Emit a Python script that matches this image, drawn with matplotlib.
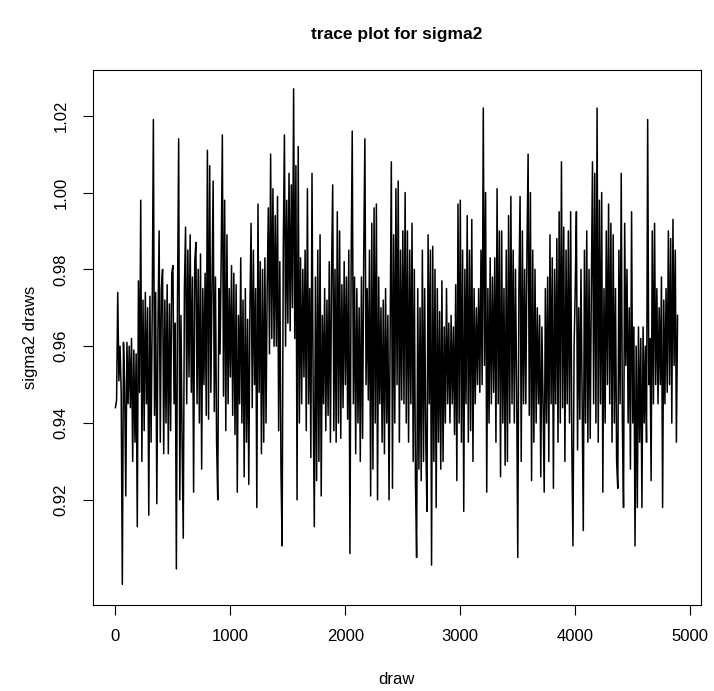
import matplotlib
matplotlib.use("Agg")
import matplotlib.pyplot as plt
import numpy as np
from matplotlib.ticker import FormatStrFormatter

plt.rcParams["font.family"] = ["Liberation Sans", "DejaVu Sans"]

# sigma2 draws, every 10th draw
sigma2 = [
    0.944, 0.946, 0.974, 0.951, 0.960, 0.948, 0.898, 0.961, 0.950, 0.921,
    0.961, 0.945, 0.960, 0.944, 0.962, 0.930, 0.959, 0.935, 0.958, 0.913,
    0.977, 0.948, 0.998, 0.930, 0.972, 0.938, 0.974, 0.945, 0.970, 0.916,
    0.973, 0.935, 0.969, 1.019, 0.942, 0.974, 0.919, 0.965, 0.990, 0.935,
    0.975, 0.980, 0.932, 0.972, 0.940, 0.976, 0.932, 0.971, 0.938, 0.979,
    0.981, 0.945, 0.966, 0.902, 0.972, 1.014, 0.920, 0.968, 0.935, 0.910,
    0.975, 0.991, 0.945, 0.985, 0.952, 0.989, 0.948, 0.978, 0.922, 0.982,
    0.987, 0.945, 0.980, 0.940, 0.984, 0.928, 0.975, 0.950, 0.979, 0.942,
    1.011, 0.941, 1.007, 0.948, 0.975, 1.003, 0.943, 0.978, 0.935, 0.920,
    0.975, 0.958, 0.983, 1.015, 0.947, 0.998, 0.938, 0.989, 0.945, 0.975,
    0.952, 0.981, 0.942, 0.979, 0.937, 0.976, 0.922, 0.968, 0.945, 0.983,
    0.940, 0.972, 0.926, 0.975, 0.935, 0.967, 0.924, 0.970, 0.992, 0.944,
    0.985, 0.950, 0.975, 0.918, 0.997, 0.948, 0.982, 0.932, 0.980, 0.935,
    0.983, 0.940, 0.975, 0.996, 0.958, 1.010, 0.962, 1.001, 0.960, 0.994,
    0.960, 0.999, 0.938, 0.982, 0.928, 0.908, 0.985, 1.015, 0.960, 0.998,
    0.966, 1.005, 0.964, 1.002, 0.970, 1.027, 0.962, 1.007, 0.920, 1.012,
    0.940, 0.983, 0.945, 0.980, 0.952, 0.985, 0.938, 1.001, 0.945, 0.975,
    0.931, 1.005, 0.948, 0.913, 0.978, 0.925, 0.985, 0.930, 0.989, 0.921,
    0.968, 0.945, 0.975, 0.938, 0.972, 0.942, 0.982, 0.935, 0.979, 1.002,
    0.938, 0.980, 0.935, 0.995, 0.940, 0.990, 0.936, 0.976, 0.944, 0.982,
    0.950, 0.978, 0.941, 0.985, 0.906, 0.980, 1.016, 0.945, 0.978, 0.932,
    0.975, 0.940, 0.970, 0.930, 0.978, 0.936, 0.984, 1.014, 0.950, 0.975,
    0.946, 0.985, 0.921, 0.992, 0.928, 0.996, 0.940, 0.997, 0.920, 0.978,
    0.945, 0.970, 0.935, 0.972, 0.932, 0.975, 0.940, 0.968, 0.920, 0.965,
    1.008, 0.923, 0.989, 0.940, 1.001, 0.950, 1.003, 0.935, 0.985, 0.946,
    0.990, 0.945, 1.000, 0.940, 0.990, 0.935, 0.985, 0.945, 0.992, 0.930,
    0.980, 0.925, 0.905, 0.975, 0.928, 0.970, 0.925, 0.985, 0.930, 0.975,
    0.935, 0.917, 0.989, 0.945, 0.985, 0.903, 0.986, 0.930, 0.980, 0.918,
    0.975, 0.935, 0.969, 0.928, 0.977, 0.930, 0.965, 0.940, 0.975, 0.945,
    0.966, 0.940, 0.968, 0.945, 0.965, 0.937, 0.976, 0.925, 0.997, 0.940,
    0.998, 0.935, 0.985, 0.917, 0.980, 0.945, 0.994, 0.935, 0.985, 0.938,
    0.993, 0.930, 0.975, 0.945, 0.970, 0.950, 0.975, 0.948, 0.985, 0.950,
    1.022, 0.955, 1.000, 0.922, 0.975, 0.940, 0.983, 0.945, 0.978, 0.948,
    0.983, 0.935, 1.001, 0.945, 0.990, 0.926, 0.990, 0.940, 0.975, 0.929,
    0.985, 0.930, 0.994, 0.940, 0.999, 0.945, 0.985, 0.940, 0.980, 0.950,
    0.905, 0.975, 0.999, 0.930, 0.990, 0.945, 0.980, 0.945, 0.985, 1.010,
    0.942, 1.000, 0.925, 0.985, 0.935, 0.980, 0.940, 0.970, 0.945, 0.968,
    0.926, 0.965, 0.945, 0.922, 0.975, 0.940, 0.978, 0.930, 0.989, 0.945,
    0.983, 0.923, 0.980, 0.945, 0.988, 0.935, 0.995, 0.940, 1.008, 0.944,
    0.991, 0.930, 0.985, 0.945, 0.990, 0.940, 0.995, 0.935, 0.908, 0.960,
    0.975, 0.995, 0.933, 0.970, 0.941, 0.980, 0.945, 0.912, 0.985, 0.940,
    0.990, 0.935, 0.980, 0.936, 0.975, 1.008, 0.945, 1.005, 0.940, 1.022,
    0.935, 0.998, 0.945, 1.000, 0.922, 0.975, 0.940, 0.990, 0.950, 0.997,
    0.945, 0.992, 0.935, 0.989, 0.940, 0.975, 0.930, 0.923, 0.985, 0.945,
    1.005, 0.940, 0.918, 0.992, 0.955, 0.980, 0.940, 0.970, 0.928, 0.995,
    0.940, 0.965, 0.908, 0.960, 0.918, 0.965, 0.935, 0.962, 0.918, 0.965,
    0.940, 0.960, 0.935, 1.019, 0.950, 0.962, 0.925, 0.990, 0.945, 0.992,
    0.950, 0.975, 0.945, 0.970, 0.950, 0.978, 0.918, 0.972, 0.945, 0.975,
    0.948, 0.990, 0.950, 0.988, 0.940, 0.993, 0.955, 0.985, 0.935, 0.968,
]
thin = 10
draw = np.arange(len(sigma2)) * thin + 1

x_ticks = [0, 1000, 2000, 3000, 4000, 5000]
y_ticks = [0.92, 0.94, 0.96, 0.98, 1.00, 1.02]

fig = plt.figure(figsize=(7.14, 6.91), dpi=100)
ax = fig.add_axes([0.1298, 0.1249, 0.852, 0.7738])

ax.plot(draw, sigma2, color="black", linewidth=1.1)

ax.set_xlim(-197, 5095)
ax.set_ylim(0.8927, 1.0319)
ax.set_xticks(x_ticks)
ax.set_yticks(y_ticks)
ax.yaxis.set_major_formatter(FormatStrFormatter("%.2f"))

ax.tick_params(direction="out", length=7.5, width=0.8, labelsize=12, pad=10)
for lab in ax.get_yticklabels():
    lab.set_rotation(90)
    lab.set_va("center")

for spine in ax.spines.values():
    spine.set_linewidth(0.8)

ax.set_xlabel("draw", fontsize=12, labelpad=20)
ax.set_ylabel("sigma2 draws", fontsize=12, labelpad=11)
ax.set_title("trace plot for sigma2", fontsize=12.5, fontweight="bold", pad=22)

fig.savefig("out.png", dpi=100, facecolor="white")
